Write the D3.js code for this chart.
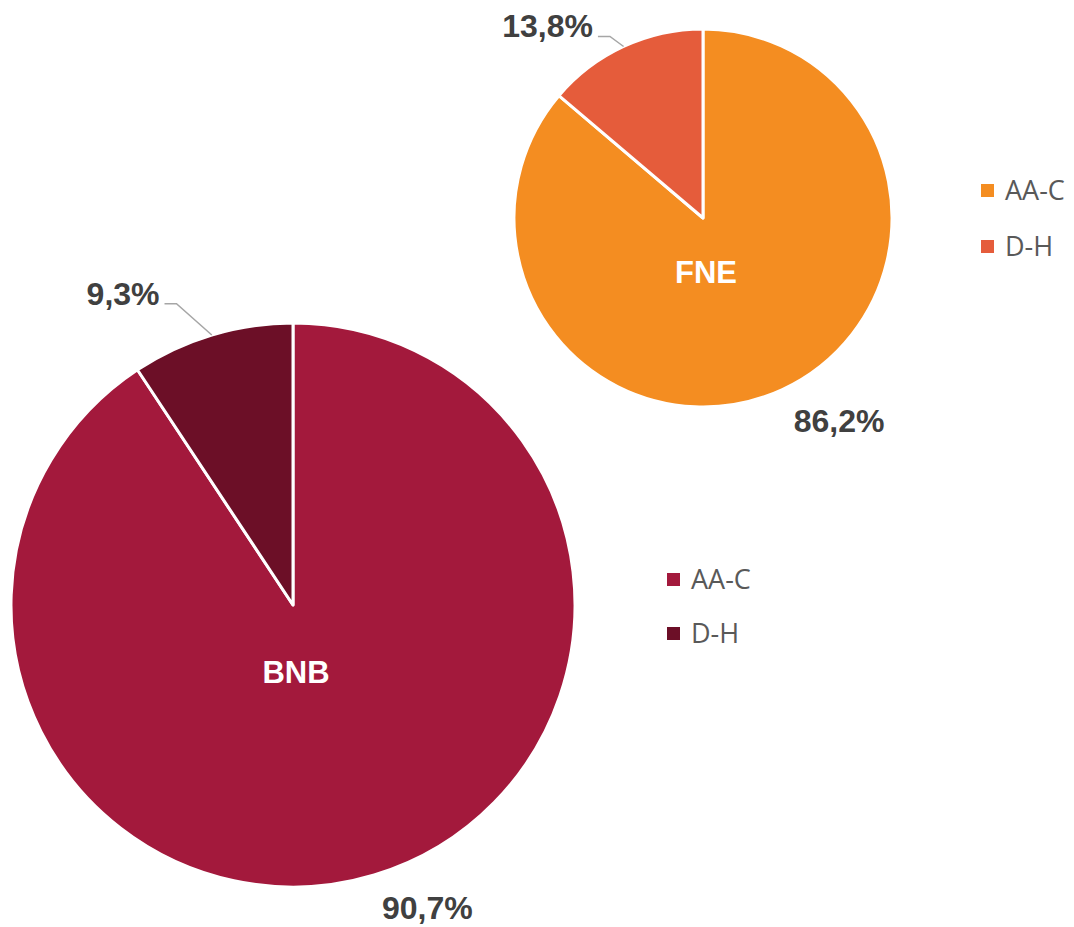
<!DOCTYPE html>
<html>
<head>
<meta charset="utf-8">
<script src="https://cdn.jsdelivr.net/npm/d3@7"></script>
<style>
  body { margin: 0; background: #fff; }
  svg { display: block; }
</style>
</head>
<body>
<div id="chart"></div>
<script>
// categories and values (share in %)
var categories = ["AA-C", "D-H"];
var fneValues = [86.2, 13.8];
var bnbValues = [90.7, 9.3];

// pies: where they sit and how they look
var pies = [
  { name: "FNE", values: fneValues, cx: 703, cy: 218, r: 189,
    colors: ["#F48D21", "#E55C3B"], nameDy: 65,
    legendX: 981, legendY: 184, legendStep: 56,
    leadOut: 15, leadShift: -2.3 },
  { name: "BNB", values: bnbValues, cx: 293, cy: 605, r: 282,
    colors: ["#A3193C", "#6C0F27"], nameDy: 78,
    legendX: 667, legendY: 573, legendStep: 54,
    leadOut: 41, leadShift: -4.4 }
];

var w = 1074, h = 927;

var svg = d3.select("#chart")
  .append("svg")
  .attr("width", w)
  .attr("height", h);

function fmt(v) { return d3.format(".1f")(v).replace(".", ",") + "%"; }

pies.forEach(function(p) {
  var pie = d3.pie().sort(null).value(function(d) { return d; });
  var arcs = pie(p.values);
  var arc = d3.arc().innerRadius(0).outerRadius(p.r);
  var color = d3.scaleOrdinal().domain(categories).range(p.colors);

  var g = svg.append("g")
    .attr("transform", "translate(" + p.cx + "," + p.cy + ")");

  g.selectAll("path")
    .data(arcs)
    .enter()
    .append("path")
    .attr("d", arc)
    .attr("fill", function(d, i) { return color(categories[i]); })
    .attr("stroke", "#fff")
    .attr("stroke-width", 3)
    .attr("stroke-linejoin", "round");

  // name in the middle
  g.append("text")
    .attr("x", 3)
    .attr("y", p.nameDy)
    .attr("text-anchor", "middle")
    .attr("font-family", "Liberation Sans, Arial, sans-serif")
    .attr("font-weight", "bold")
    .attr("font-size", 31)
    .attr("fill", "#fff")
    .text(p.name);

  // value labels
  arcs.forEach(function(d, i) {
    var mid = (d.startAngle + d.endAngle) / 2;
    var sx = Math.sin(mid), cy = -Math.cos(mid);
    if (d.value > 50) {
      // outside end, box corner touches the anchor
      var ra = p.r + 27;
      var ax = sx * ra, ay = cy * ra;
      g.append("text")
        .attr("x", ax)
        .attr("y", ay + (cy > 0 ? 18 : -4))
        .attr("text-anchor", sx >= 0 ? "start" : "end")
        .attr("font-family", "Liberation Sans, Arial, sans-serif")
        .attr("font-weight", "bold")
        .attr("font-size", 32)
        .attr("fill", "#404040")
        .text(fmt(d.value));
    } else {
      // small slice: leader line out to the label
      var a2 = mid + p.leadShift * Math.PI / 180;
      var x1 = sx * p.r, y1 = cy * p.r;
      var x2 = Math.sin(a2) * (p.r + p.leadOut), y2 = -Math.cos(a2) * (p.r + p.leadOut);
      var x3 = x2 - 12;
      g.append("polyline")
        .attr("points", [[x1, y1], [x2, y2], [x3, y2]].map(function(q) { return q.join(","); }).join(" "))
        .attr("fill", "none")
        .attr("stroke", "#A6A6A6")
        .attr("stroke-width", 1.5);
      g.append("text")
        .attr("x", x3 - 5)
        .attr("y", y2 + 1)
        .attr("text-anchor", "end")
        .attr("font-family", "Liberation Sans, Arial, sans-serif")
        .attr("font-weight", "bold")
        .attr("font-size", 32)
        .attr("fill", "#404040")
        .text(fmt(d.value));
    }
  });

  // legend
  var leg = svg.append("g")
    .attr("transform", "translate(" + p.legendX + "," + p.legendY + ")");
  var item = leg.selectAll("g")
    .data(categories)
    .enter()
    .append("g")
    .attr("transform", function(d, i) { return "translate(0," + i * p.legendStep + ")"; });
  item.append("rect")
    .attr("width", 13)
    .attr("height", 13)
    .attr("fill", function(d) { return color(d); });
  item.append("text")
    .attr("x", 24)
    .attr("y", 16)
    .attr("font-family", "Open Sans, sans-serif")
    .attr("font-size", 27)
    .attr("fill", "#595959")
    .text(function(d) { return d; });
});
</script>
</body>
</html>
